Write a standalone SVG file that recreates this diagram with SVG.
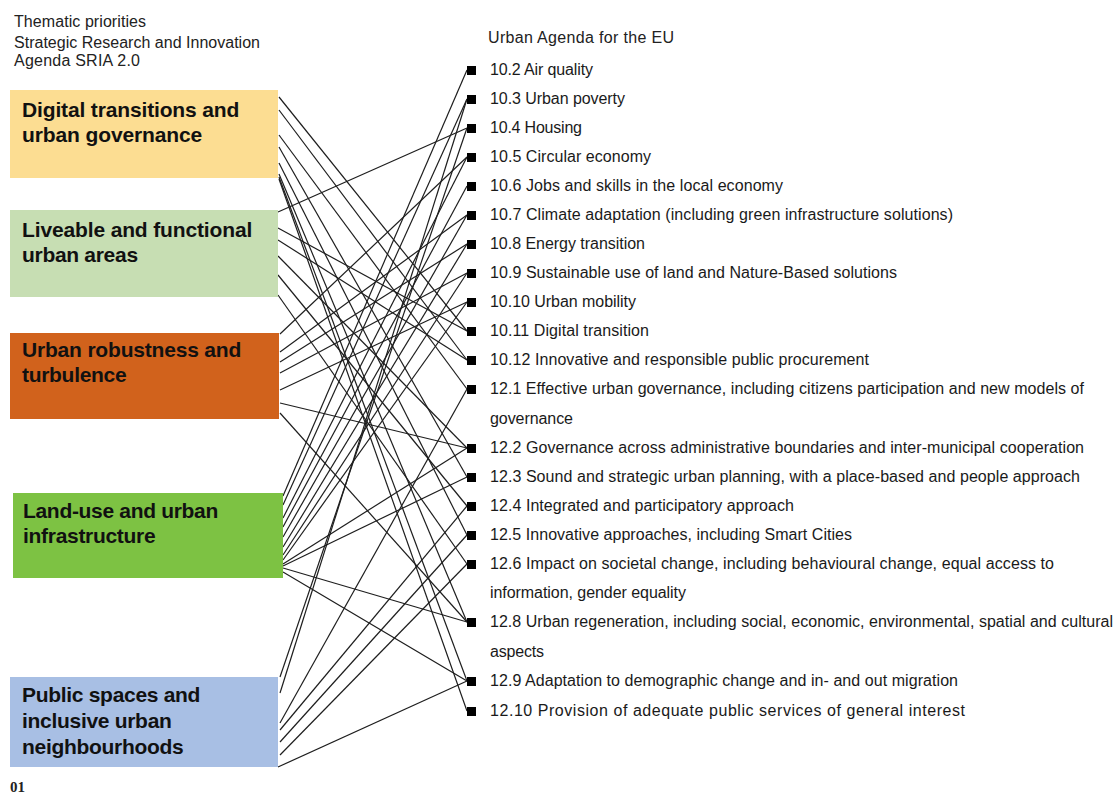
<svg xmlns="http://www.w3.org/2000/svg" width="1118" height="796" viewBox="0 0 1118 796">
<style>
.hdr{font-family:"Liberation Sans",Arial,sans-serif;font-size:16px;fill:#222}
.bx{font-family:"Liberation Sans",Arial,sans-serif;font-size:21px;font-weight:bold;fill:#111;letter-spacing:-0.3px}
.it{font-family:"Liberation Sans",Arial,sans-serif;font-size:16px;fill:#1a1a1a}
.sq{fill:#000}
#connectors line{stroke:#1e1e1e;stroke-width:1.2}
.num{font-family:"Liberation Serif","Times New Roman",serif;font-size:15px;font-weight:bold;fill:#222}
</style>
<rect width="1118" height="796" fill="#fff"/>
<g id="header">
<text class="hdr" x="14" y="27" textLength="132">Thematic priorities</text>
<text class="hdr" x="14" y="48" textLength="246">Strategic Research and Innovation</text>
<text class="hdr" x="14" y="66" textLength="126">Agenda  SRIA 2.0</text>
<text class="hdr" x="488" y="43" textLength="186">Urban Agenda for the EU</text>
</g>
<g id="connectors">
<line x1="279" y1="97" x2="467" y2="331"/>
<line x1="279" y1="110" x2="467" y2="360"/>
<line x1="279" y1="135" x2="467" y2="389"/>
<line x1="279" y1="147" x2="467" y2="477"/>
<line x1="279" y1="163" x2="467" y2="535"/>
<line x1="279" y1="174" x2="467" y2="622"/>
<line x1="279" y1="177" x2="467" y2="681"/>
<line x1="279" y1="179" x2="467" y2="711"/>
<line x1="278" y1="212" x2="467" y2="128"/>
<line x1="278" y1="228" x2="467" y2="331"/>
<line x1="278" y1="240" x2="467" y2="360"/>
<line x1="278" y1="256" x2="467" y2="448"/>
<line x1="278" y1="275" x2="467" y2="506"/>
<line x1="278" y1="295" x2="467" y2="564"/>
<line x1="280" y1="334" x2="467" y2="157"/>
<line x1="280" y1="352" x2="467" y2="215"/>
<line x1="280" y1="362" x2="467" y2="244"/>
<line x1="280" y1="373" x2="467" y2="273"/>
<line x1="280" y1="390" x2="467" y2="302"/>
<line x1="280" y1="403" x2="467" y2="448"/>
<line x1="280" y1="413" x2="467" y2="622"/>
<line x1="283" y1="496" x2="467" y2="70"/>
<line x1="283" y1="505" x2="467" y2="99"/>
<line x1="283" y1="518" x2="467" y2="157"/>
<line x1="283" y1="527" x2="467" y2="186"/>
<line x1="283" y1="537" x2="467" y2="215"/>
<line x1="283" y1="547" x2="467" y2="244"/>
<line x1="283" y1="555" x2="467" y2="273"/>
<line x1="283" y1="560" x2="467" y2="302"/>
<line x1="283" y1="564" x2="467" y2="448"/>
<line x1="283" y1="566" x2="467" y2="477"/>
<line x1="283" y1="568" x2="467" y2="622"/>
<line x1="283" y1="572" x2="467" y2="681"/>
<line x1="280" y1="677" x2="467" y2="128"/>
<line x1="280" y1="693" x2="467" y2="99"/>
<line x1="280" y1="723" x2="467" y2="389"/>
<line x1="280" y1="730" x2="467" y2="506"/>
<line x1="280" y1="742" x2="467" y2="535"/>
<line x1="280" y1="755" x2="467" y2="564"/>
<line x1="278" y1="767" x2="467" y2="681"/>
</g>
<g id="box1"><rect x="10" y="90" width="268" height="88" fill="#FCDD92"/><text class="bx" x="22" y="117" textLength="217">Digital transitions and</text><text class="bx" x="22" y="142" textLength="180">urban governance</text></g>
<g id="box2"><rect x="10" y="210" width="268" height="87" fill="#C7DEB3"/><text class="bx" x="22" y="237" textLength="230">Liveable and functional</text><text class="bx" x="22" y="262">urban areas</text></g>
<g id="box3"><rect x="10" y="333" width="269" height="86" fill="#D1621C"/><text class="bx" x="22" y="357" textLength="219">Urban robustness and</text><text class="bx" x="22" y="382">turbulence</text></g>
<g id="box4"><rect x="13" y="493" width="270" height="85" fill="#7DC243"/><text class="bx" x="23" y="518" textLength="195">Land-use and urban</text><text class="bx" x="23" y="543">infrastructure</text></g>
<g id="box5"><rect x="10" y="677" width="268" height="90" fill="#A8BFE4"/><text class="bx" x="22" y="702">Public spaces and</text><text class="bx" x="22" y="728">inclusive urban</text><text class="bx" x="22" y="754">neighbourhoods</text></g>
<g id="items">
<rect class="sq" x="467" y="66" width="9" height="9"/><text class="it" x="490" y="75" textLength="103">10.2 Air quality</text>
<rect class="sq" x="467" y="95" width="9" height="9"/><text class="it" x="490" y="104" textLength="135">10.3 Urban poverty</text>
<rect class="sq" x="467" y="124" width="9" height="9"/><text class="it" x="490" y="133" textLength="92">10.4 Housing</text>
<rect class="sq" x="467" y="153" width="9" height="9"/><text class="it" x="490" y="162" textLength="161">10.5 Circular economy</text>
<rect class="sq" x="467" y="182" width="9" height="9"/><text class="it" x="490" y="191" textLength="293">10.6 Jobs and skills in the local economy</text>
<rect class="sq" x="467" y="211" width="9" height="9"/><text class="it" x="490" y="220" textLength="463">10.7 Climate adaptation (including green infrastructure solutions)</text>
<rect class="sq" x="467" y="240" width="9" height="9"/><text class="it" x="490" y="249" textLength="155">10.8 Energy transition</text>
<rect class="sq" x="467" y="269" width="9" height="9"/><text class="it" x="490" y="278" textLength="407">10.9 Sustainable use of land and Nature-Based solutions</text>
<rect class="sq" x="467" y="298" width="9" height="9"/><text class="it" x="490" y="307" textLength="146">10.10 Urban mobility</text>
<rect class="sq" x="467" y="327" width="9" height="9"/><text class="it" x="490" y="336" textLength="159">10.11 Digital transition</text>
<rect class="sq" x="467" y="356" width="9" height="9"/><text class="it" x="490" y="365" textLength="379">10.12 Innovative and responsible public procurement</text>
<rect class="sq" x="467" y="385" width="9" height="9"/><text class="it" x="490" y="394" textLength="594">12.1 Effective urban governance, including citizens participation and new models of</text>
<text class="it" x="490" y="424" textLength="83">governance</text>
<rect class="sq" x="467" y="444" width="9" height="9"/><text class="it" x="490" y="453" textLength="594">12.2 Governance across administrative boundaries and inter-municipal cooperation</text>
<rect class="sq" x="467" y="473" width="9" height="9"/><text class="it" x="490" y="482" textLength="590">12.3 Sound and strategic urban planning, with a place-based and people approach</text>
<rect class="sq" x="467" y="502" width="9" height="9"/><text class="it" x="490" y="511" textLength="304">12.4 Integrated and participatory approach</text>
<rect class="sq" x="467" y="531" width="9" height="9"/><text class="it" x="490" y="540" textLength="362">12.5 Innovative approaches, including Smart Cities</text>
<rect class="sq" x="467" y="560" width="9" height="9"/><text class="it" x="490" y="569" textLength="564">12.6 Impact on societal change, including behavioural change, equal access to</text>
<text class="it" x="490" y="598" textLength="196">information, gender equality</text>
<rect class="sq" x="467" y="618" width="9" height="9"/><text class="it" x="490" y="627" textLength="623">12.8 Urban regeneration, including social, economic, environmental, spatial and cultural</text>
<text class="it" x="490" y="657" textLength="54">aspects</text>
<rect class="sq" x="467" y="677" width="9" height="9"/><text class="it" x="490" y="686" textLength="468">12.9 Adaptation to demographic change and in- and out migration</text>
<rect class="sq" x="467" y="707" width="9" height="9"/><text class="it" x="490" y="716" textLength="475">12.10 Provision of adequate public services of general interest</text>
</g>
<text class="num" x="10" y="792">01</text>
</svg>
